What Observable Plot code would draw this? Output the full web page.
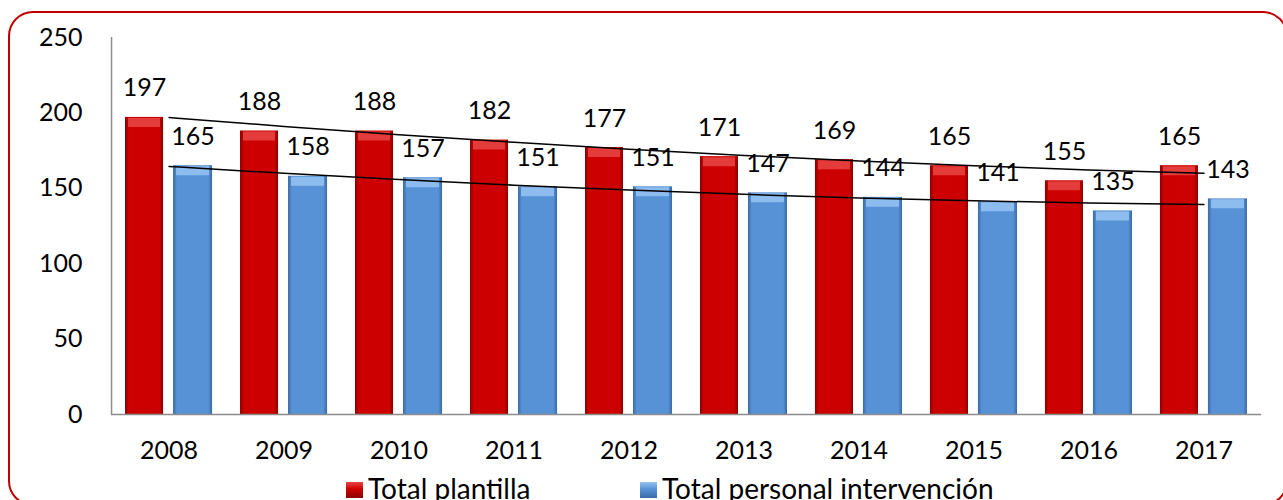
<!DOCTYPE html>
<html>
<head>
<meta charset="utf-8">
<script src="https://cdn.jsdelivr.net/npm/d3@7"></script>
<script src="https://cdn.jsdelivr.net/npm/@observablehq/plot@0.6"></script>
<style>
  html, body { margin: 0; padding: 0; background: #fff; width: 1283px; height: 500px; overflow: hidden; font-family: "Lato", sans-serif; }
  #frame { position: absolute; left: 8px; top: 11px; width: 1280px; height: 495px; border: 2px solid #c00000; border-radius: 25px; box-sizing: border-box; }
  #chart { position: absolute; left: 0; top: 0; }
  #legend { position: absolute; left: 0; top: 471px; width: 1283px; font-family: "Lato", sans-serif; font-size: 28px; color: #000; }
  .item { position: absolute; top: 0; display: flex; align-items: center; white-space: nowrap; }
  .sw { width: 17px; height: 16px; margin-right: 5px; margin-top: 4px; }
</style>
</head>
<body>
<div id="frame"></div>
<div id="chart"></div>
<div id="legend"></div>
<script>
const years = ["2008","2009","2010","2011","2012","2013","2014","2015","2016","2017"];
const totalPlantilla = [197,188,188,182,177,171,169,165,155,165];
const totalIntervencion = [165,158,157,151,151,147,144,141,135,143];
const seriesNames = ["Total plantilla", "Total personal intervención"];
const yTicks = [0,50,100,150,200,250];

const colors = {
  red: {main: "#cc0000", dark: "#8a0000", top: "#e84545"},
  blue: {main: "#5892d6", dark: "#3a6aa6", top: "#96c4f2"}
};

// Quadratic least-squares trend, computed from the data
function quadFit(vals) {
  let S = [0,0,0,0,0], T = [0,0,0];
  vals.forEach((v, i) => {
    const x = i + 1;
    for (let k = 0; k < 5; k++) S[k] += Math.pow(x, k);
    for (let k = 0; k < 3; k++) T[k] += v * Math.pow(x, k);
  });
  const A = [[S[0],S[1],S[2],T[0]],[S[1],S[2],S[3],T[1]],[S[2],S[3],S[4],T[2]]];
  for (let c = 0; c < 3; c++) {
    for (let r = c + 1; r < 3; r++) {
      const f = A[r][c] / A[c][c];
      for (let k = c; k < 4; k++) A[r][k] -= f * A[c][k];
    }
  }
  const b = [0,0,0];
  for (let r = 2; r >= 0; r--) {
    let s = A[r][3];
    for (let k = r + 1; k < 3; k++) s -= A[r][k] * b[k];
    b[r] = s / A[r][r];
  }
  return vals.map((v, i) => { const x = i + 1; return b[0] + b[1]*x + b[2]*x*x; });
}

const red = years.map((y, i) => ({year: y, value: totalPlantilla[i]}));
const blue = years.map((y, i) => ({year: y, value: totalIntervencion[i]}));
const redTrend = quadFit(totalPlantilla).map((v, i) => ({year: years[i], value: v}));
const blueTrend = quadFit(totalIntervencion).map((v, i) => ({year: years[i], value: v}));

const plot = Plot.plot({
  width: 1283,
  height: 470,
  marginTop: 37,
  marginBottom: 56,
  marginLeft: 111,
  marginRight: 22,
  style: {fontFamily: "Lato, sans-serif", fontSize: "25px", color: "#000", background: "transparent", overflow: "visible"},
  x: {domain: years, paddingInner: 0.243, paddingOuter: 0.122, round: false, label: null, tickSize: 0, tickPadding: 27},
  y: {domain: [0, 250], ticks: yTicks, label: null, tickSize: 0, tickPadding: 29, tickFormat: d => String(d)},
  marks: [
    Plot.barY(red, {x: "year", y: "value", fill: "url(#gradRed)", insetRight: 49}),
    Plot.barY(blue, {x: "year", y: "value", fill: "url(#gradBlue)", insetLeft: 48}),
    Plot.tickY(red, {x: "year", y: "value", stroke: colors.red.top, strokeWidth: 9, dy: 5, insetLeft: 3, insetRight: 52, strokeOpacity: 0.85}),
    Plot.tickY(blue, {x: "year", y: "value", stroke: colors.blue.top, strokeWidth: 9, dy: 5, insetLeft: 51, insetRight: 3, strokeOpacity: 0.85}),
    Plot.ruleX([years[0]], {x: d => d, y1: 0, y2: 250, stroke: "#8c8c8c", strokeWidth: 1.5, dx: -57.5}),
    Plot.ruleY([0], {stroke: "#8c8c8c", strokeWidth: 1.5}),
    Plot.line(redTrend, {x: "year", y: "value", stroke: "#000", strokeWidth: 1.5, curve: "natural"}),
    Plot.line(blueTrend, {x: "year", y: "value", stroke: "#000", strokeWidth: 1.5, curve: "natural"}),
    Plot.text(red, {x: "year", y: "value", text: d => String(d.value), dx: -24.5, dy: -29, fill: "#000", fontSize: 25}),
    Plot.text(blue, {x: "year", y: "value", text: d => String(d.value), dx: 24, dy: -29, fill: "#000", fontSize: 25})
  ]
});

// gradients for the bevelled bars
const ns = "http://www.w3.org/2000/svg";
const defs = document.createElementNS(ns, "defs");
function addGrad(id, c) {
  const g = document.createElementNS(ns, "linearGradient");
  g.setAttribute("id", id);
  g.setAttribute("x1", "0"); g.setAttribute("x2", "1"); g.setAttribute("y1", "0"); g.setAttribute("y2", "0");
  [[0, c.dark],[0.1, c.main],[0.9, c.main],[1, c.dark]].forEach(([o, col]) => {
    const s = document.createElementNS(ns, "stop");
    s.setAttribute("offset", o); s.setAttribute("stop-color", col);
    g.appendChild(s);
  });
  defs.appendChild(g);
}
addGrad("gradRed", colors.red);
addGrad("gradBlue", colors.blue);
plot.insertBefore(defs, plot.firstChild);
document.getElementById("chart").appendChild(plot);

// legend
const legend = document.getElementById("legend");
const items = [
  {name: seriesNames[0], c: colors.red, left: 346},
  {name: seriesNames[1], c: colors.blue, left: 640}
];
items.forEach(it => {
  const d = document.createElement("div");
  d.className = "item";
  d.style.left = it.left + "px";
  const sw = document.createElement("div");
  sw.className = "sw";
  sw.style.background = `linear-gradient(to bottom, ${it.c.top}, ${it.c.main} 45%, ${it.c.dark})`;
  const t = document.createElement("span");
  t.textContent = it.name;
  d.appendChild(sw); d.appendChild(t);
  legend.appendChild(d);
});
</script>
</body>
</html>
